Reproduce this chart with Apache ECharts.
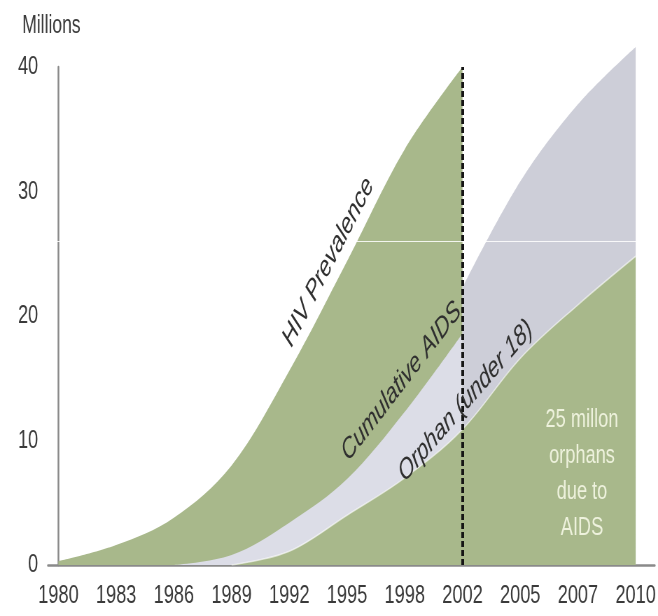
<!DOCTYPE html>
<html><head><meta charset="utf-8">
<script src="https://cdn.jsdelivr.net/npm/echarts@6/dist/echarts.min.js"></script>
<style>
html,body{margin:0;padding:0;width:658px;height:616px;overflow:hidden;background:#fff}
#chart{width:940px;height:616px;transform:scaleX(0.7);transform-origin:0 0}
</style></head><body><div id="chart"></div>
<script>
// Tick labels (evenly spaced on the axis, as in the original)
const years = ['1980','1983','1986','1989','1992','1995','1998','2002','2005','2007','2010'];
// Millions
const hivPrevalence      = [0.3, 1.6, 3.8, 8.0, 15.6, 24.4, 33.4, 40.0, null, null, null];
const cumulativeAidsPre  = [null, null, 0, 0.8, 3.4, 6.9, 12.3, 18.6, null, null, null];
const cumulativeAidsPost = [null, null, null, null, null, null, null, 22.3, 30.8, 37.0, 41.6];
const orphansUnder18     = [null, null, null, 0, 1.1, 4.0, 7.0, 10.9, 16.6, 20.9, 24.8];
const markYearIndex = 7; // 2002

const SQ = 0.7;
const FONT = "'Liberation Sans', Arial, sans-serif";
const GREEN = '#a8b88b', GRAY_LIGHT = '#dcdde7', GRAY = '#cdced8';

function pairs(arr){ return arr.map((v,i)=>[i,v]).filter(p=>p[1]!=null); }
function area(name, arr, color, extra){
  return Object.assign({
    name, type:'line', data:pairs(arr), smooth:0.35,
    showSymbol:false, symbol:'none', silent:true,
    lineStyle:{width:0}, areaStyle:{color, opacity:1},
    emphasis:{disabled:true}
  }, extra||{});
}

const chart = echarts.init(document.getElementById('chart'));
chart.setOption({
  animation:false,
  grid:{left:48/SQ, right:0, top:67, bottom:51},
  xAxis:{
    type:'value', min:-0.18, max:10.33,
    splitLine:{show:false}, axisTick:{show:false},
    axisLine:{show:true, lineStyle:{color:'#8a8a8a', width:2.5}},
    axisLabel:{
      customValues: years.map((y,i)=>i),
      formatter: v => years[Math.round(v)] || '',
      alignMinLabel:'center', alignMaxLabel:'center',
      fontSize:26, fontFamily:FONT, color:'#3a3a3a', margin:18
    }
  },
  yAxis:{
    type:'value', min:0, max:40, interval:10,
    name:'Millions', nameLocation:'end', nameGap:41,
    nameTextStyle:{fontSize:25, fontFamily:FONT, color:'#3a3a3a', align:'center', verticalAlign:'middle', padding:[0,20,0,0]},
    splitLine:{show:false}, axisTick:{show:false},
    axisLine:{show:true, lineStyle:{color:'#8a8a8a', width:2.5}},
    axisLabel:{fontSize:26, fontFamily:FONT, color:'#3a3a3a', margin:14, padding:[5,0,0,0]}
  },
  series:[
    area('HIV Prevalence', hivPrevalence, GREEN),
    area('Cumulative AIDS', cumulativeAidsPre, GRAY_LIGHT),
    area('Cumulative AIDS (projected)', cumulativeAidsPost, GRAY, {clip:false}),
    area('Orphan (under 18)', orphansUnder18, GREEN, {lineStyle:{width:1.5, color:'rgba(255,255,255,0.6)'}}),
    {
      name:'marks', type:'line', data:[], z:10, silent:true,
      markLine:{
        silent:true, symbol:['none','none'], label:{show:false}, animation:false,
        data:[
          {xAxis:markYearIndex, lineStyle:{color:'#151515', width:4, type:[6,3]}},
          {yAxis:26, lineStyle:{color:'rgba(255,255,255,0.85)', width:1, type:'solid'}}
        ]
      }
    }
  ]
});

function px(x,y){ return chart.convertToPixel({gridIndex:0},[x,y]); }
const labelStyle = {fontSize:29, fontFamily:FONT, fontStyle:'italic', fill:'#2f2f2f', align:'center', verticalAlign:'middle'};
const deg = d => d*Math.PI/180;
const texts = [
  {text:'HIV Prevalence', at:[4.676, 24.34], rot:54},
  {text:'Cumulative AIDS', at:[5.943, 14.74], rot:42.5},
  {text:'Orphan (under 18)', at:[7.054, 13.17], rot:39.3}
];
const graphic = texts.map(t=>{
  const p = px(t.at[0], t.at[1]);
  return {type:'text', x:p[0], y:p[1], rotation:deg(t.rot), silent:true, z:100,
          style:Object.assign({text:t.text}, labelStyle)};
});
const pNote = px(9.07, 7.3);
graphic.push({type:'text', x:pNote[0], y:pNote[1], silent:true, z:100,
  style:{text:'25 millon\norphans\ndue to\nAIDS', fontSize:26, lineHeight:36, fontFamily:FONT,
         fill:'#eef2dd', align:'center', verticalAlign:'middle'}});
chart.setOption({graphic});
</script>
</body></html>
